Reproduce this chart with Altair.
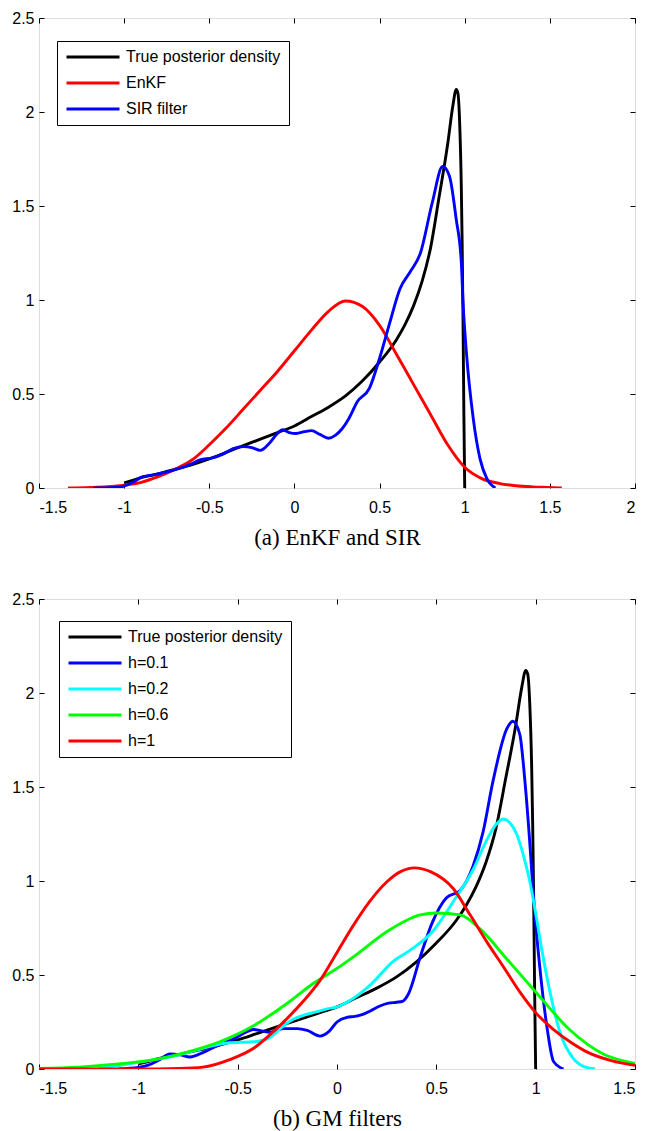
import altair as alt
import pandas as pd

# ---------------- data ----------------
# True posterior density (same in both panels)
TRUE_X = [-1.0, -0.95, -0.9, -0.8, -0.75, -0.7, -0.6, -0.5, -0.4, -0.3, -0.2, -0.1, 0.0,
          0.1, 0.2, 0.3, 0.4, 0.5, 0.6, 0.65, 0.7, 0.75, 0.8, 0.85, 0.9, 0.93, 0.95,
          0.96, 0.97, 0.98, 0.985, 0.99, 0.995, 1.0]
TRUE_Y = [0.027, 0.04, 0.055, 0.075, 0.088, 0.10, 0.125, 0.155, 0.19, 0.225, 0.26, 0.295, 0.33,
          0.38, 0.43, 0.49, 0.57, 0.67, 0.79, 0.87, 0.97, 1.10, 1.28, 1.55, 1.83, 2.03, 2.12,
          2.10, 1.95, 1.60, 1.30, 0.90, 0.40, 0.0]

# Panel (a): EnKF
ENKF_X = [-1.33, -1.2, -1.1, -1.0, -0.9, -0.8, -0.7, -0.6, -0.5, -0.4, -0.3, -0.2, -0.1, 0.0,
          0.1, 0.2, 0.3, 0.4, 0.5, 0.6, 0.7, 0.8, 0.9, 1.0, 1.1, 1.2, 1.3, 1.4, 1.5, 1.57]
ENKF_Y = [0.0, 0.003, 0.007, 0.015, 0.03, 0.06, 0.10, 0.15, 0.23, 0.32, 0.42, 0.52, 0.62, 0.73,
          0.84, 0.94, 0.995, 0.965, 0.865, 0.71, 0.55, 0.39, 0.23, 0.11, 0.05, 0.025, 0.012, 0.006, 0.003, 0.0]

# Panel (a): SIR filter
SIR_X = [-1.18, -1.05, -1.0, -0.95, -0.89, -0.83, -0.75, -0.69, -0.6, -0.555, -0.48, -0.42, -0.36,
         -0.3, -0.25, -0.2, -0.15, -0.1, -0.07, -0.03, 0.01, 0.06, 0.1, 0.15, 0.2, 0.24, 0.28, 0.32,
         0.37, 0.44, 0.5, 0.56, 0.62, 0.68, 0.74, 0.81, 0.87, 0.91, 0.95, 0.98, 0.99, 1.01, 1.05,
         1.09, 1.13, 1.18]
SIR_Y = [0.0, 0.003, 0.01, 0.03, 0.06, 0.07, 0.085, 0.10, 0.13, 0.15, 0.16, 0.18, 0.21,
         0.22, 0.215, 0.20, 0.235, 0.29, 0.31, 0.295, 0.29, 0.30, 0.305, 0.285, 0.265, 0.28, 0.315, 0.37,
         0.46, 0.53, 0.69, 0.88, 1.06, 1.15, 1.25, 1.52, 1.71, 1.66, 1.43, 1.20, 0.99, 0.72, 0.37,
         0.155, 0.05, 0.0]

# Panel (b): GM filter, h=0.1
H01_X = [-1.1, -1.0, -0.95, -0.9, -0.84, -0.79, -0.74, -0.67, -0.59, -0.52, -0.45, -0.42, -0.34,
         -0.27, -0.2, -0.15, -0.086, -0.04, 0.0, 0.05, 0.09, 0.13, 0.17, 0.216, 0.26, 0.3, 0.33,
         0.36, 0.42, 0.48, 0.55, 0.62, 0.685, 0.735, 0.785, 0.855, 0.885, 0.92, 0.946, 0.97, 0.99,
         1.02, 1.06, 1.09, 1.14]
H01_Y = [0.0, 0.008, 0.02, 0.045, 0.08, 0.075, 0.064, 0.09, 0.13, 0.16, 0.20, 0.21, 0.195,
         0.215, 0.215, 0.205, 0.175, 0.20, 0.25, 0.275, 0.28, 0.29, 0.31, 0.335, 0.35, 0.355, 0.36,
         0.40, 0.60, 0.78, 0.91, 0.95, 1.08, 1.26, 1.53, 1.81, 1.85, 1.78, 1.53, 1.21, 0.90,
         0.55, 0.20, 0.04, 0.0]

# Panel (b): GM filter, h=0.2
H02_X = [-1.2, -1.09, -1.0, -0.92, -0.84, -0.76, -0.675, -0.6, -0.54, -0.48, -0.42, -0.35, -0.31,
         -0.27, -0.22, -0.17, -0.1, -0.05, 0.0, 0.05, 0.166, 0.28, 0.38, 0.48, 0.585, 0.685, 0.755,
         0.8, 0.837, 0.87, 0.904, 0.94, 0.97, 1.0, 1.03, 1.072, 1.122, 1.19, 1.25, 1.3]
H02_Y = [0.005, 0.02, 0.035, 0.05, 0.064, 0.085, 0.11, 0.13, 0.14, 0.142, 0.145, 0.16, 0.19,
         0.23, 0.265, 0.285, 0.305, 0.32, 0.33, 0.355, 0.445, 0.57, 0.64, 0.73, 0.89, 1.06, 1.22,
         1.30, 1.33, 1.31, 1.25, 1.13, 1.0, 0.83, 0.64, 0.41, 0.197, 0.055, 0.01, 0.0]

# Panel (b): GM filter, h=0.6
H06_X = [-1.5, -1.3, -1.1, -0.92, -0.755, -0.59, -0.42, -0.25, -0.12, 0.0, 0.1, 0.25, 0.42,
         0.5, 0.62, 0.72, 0.855, 1.0, 1.17, 1.34, 1.5]
H06_Y = [0.003, 0.01, 0.027, 0.05, 0.09, 0.145, 0.23, 0.35, 0.455, 0.535, 0.61, 0.73, 0.82,
         0.83, 0.82, 0.745, 0.585, 0.41, 0.21, 0.08, 0.03]

# Panel (b): GM filter, h=1
H1_X = [-1.5, -1.0, -0.8, -0.675, -0.54, -0.42, -0.34, -0.25, -0.17, -0.086, 0.0, 0.08, 0.16,
        0.25, 0.32, 0.39, 0.47, 0.585, 0.67, 0.755, 0.84, 0.92, 1.0, 1.09, 1.18, 1.26, 1.38, 1.5]
H1_Y = [0.0, 0.0, 0.003, 0.01, 0.05, 0.11, 0.18, 0.27, 0.36, 0.47, 0.62, 0.76, 0.885,
        0.995, 1.05, 1.07, 1.05, 0.96, 0.82, 0.675, 0.54, 0.41, 0.30, 0.21, 0.14, 0.09, 0.045, 0.02]

NAMES_A = ["True posterior density", "EnKF", "SIR filter"]
COLORS_A = ["#000000", "#ff0000", "#0000ff"]
NAMES_B = ["True posterior density", "h=0.1", "h=0.2", "h=0.6", "h=1"]
COLORS_B = ["#000000", "#0000ff", "#00ffff", "#00ff00", "#ff0000"]

XTICKS_A = [-1.5, -1, -0.5, 0, 0.5, 1, 1.5, 2]
XTICKS_B = [-1.5, -1, -0.5, 0, 0.5, 1, 1.5]
YTICKS = [0, 0.5, 1, 1.5, 2, 2.5]

CAPTION_A = "(a) EnKF and SIR"
CAPTION_B = "(b) GM filters"

SANS = "Liberation Sans"
SERIF = "Liberation Serif"
W, H = 596, 470


def panel(series, names, colors, xdomain, xticks, caption, field, legend_xy):
    xscale = alt.Scale(domain=xdomain, nice=False, zero=False)
    yscale = alt.Scale(domain=[0, 2.5], nice=False, zero=False)
    cscale = alt.Scale(domain=names, range=colors)
    lab = "'' + datum.value"
    x_axis = alt.Axis(values=xticks, orient="bottom", offset=-5, tickSize=5, domain=False,
                      grid=False, labelExpr=lab, labelFont=SANS, labelFontSize=16,
                      labelColor="black", tickColor="black", tickWidth=1, labelPadding=11,
                      title=caption, titleFont=SERIF, titleFontSize=23, titleFontWeight="normal",
                      titleColor="black", titlePadding=11)
    y_axis = alt.Axis(values=YTICKS, orient="left", offset=-5, tickSize=5, domain=False,
                      grid=False, labelExpr=lab, labelFont=SANS, labelFontSize=16,
                      labelColor="black", tickColor="black", tickWidth=1, labelPadding=5,
                      title=None)
    x_top = alt.Axis(values=xticks, orient="top", offset=-5, tickSize=5, domain=False,
                     grid=False, labels=False, tickColor="black", tickWidth=1, title=None)
    y_right = alt.Axis(values=YTICKS, orient="right", offset=-5, tickSize=5, domain=False,
                       grid=False, labels=False, tickColor="black", tickWidth=1, title=None)
    legend = alt.Legend(title=None, orient="none", legendX=legend_xy[0], legendY=legend_xy[1],
                        symbolType="stroke", symbolSize=2809, symbolStrokeWidth=3,
                        labelFont=SANS, labelFontSize=16, labelColor="black",
                        strokeColor="black", fillColor="white", padding=8, rowPadding=10,
                        labelOffset=5, clipHeight=16)
    layers = []
    for i, (name, xs, ys) in enumerate(series):
        df = pd.DataFrame({"x": xs, "y": ys, field: name})
        first = i == 0
        layers.append(
            alt.Chart(df).mark_line(strokeWidth=2.9, interpolate="monotone", clip=True).encode(
                x=alt.X("x:Q", scale=xscale, axis=x_axis if first else None),
                y=alt.Y("y:Q", scale=yscale, axis=y_axis if first else None),
                color=alt.Color(f"{field}:N", scale=cscale, legend=legend),
            )
        )
    # invisible copy carrying the mirrored top/right tick axes
    name0, xs0, ys0 = series[0]
    df0 = pd.DataFrame({"x": xs0, "y": ys0})
    layers.append(
        alt.Chart(df0).mark_line(strokeOpacity=0).encode(
            x=alt.X("x:Q", scale=xscale, axis=x_top),
            y=alt.Y("y:Q", scale=yscale, axis=y_right),
        )
    )
    return alt.layer(*layers).resolve_axis(x="independent", y="independent").properties(
        width=W, height=H)


top = panel(
    [(NAMES_A[0], TRUE_X, TRUE_Y), (NAMES_A[1], ENKF_X, ENKF_Y), (NAMES_A[2], SIR_X, SIR_Y)],
    NAMES_A, COLORS_A, [-1.5, 2], XTICKS_A, CAPTION_A, "series_a", (18, 23))

bottom = panel(
    [(NAMES_B[0], TRUE_X, TRUE_Y), (NAMES_B[1], H01_X, H01_Y), (NAMES_B[2], H02_X, H02_Y),
     (NAMES_B[3], H06_X, H06_Y), (NAMES_B[4], H1_X, H1_Y)],
    NAMES_B, COLORS_B, [-1.5, 1.5], XTICKS_B, CAPTION_B, "series_b", (20, 22))

chart = alt.vconcat(top, bottom, spacing=40).resolve_scale(
    x="independent", y="independent", color="independent"
).properties(
    padding={"top": 1, "left": 3, "right": 4, "bottom": 2}
).configure_view(stroke="black", strokeWidth=1.5).configure(background="white")

chart.save("out.html", embed_options={"renderer": "svg", "actions": False})
